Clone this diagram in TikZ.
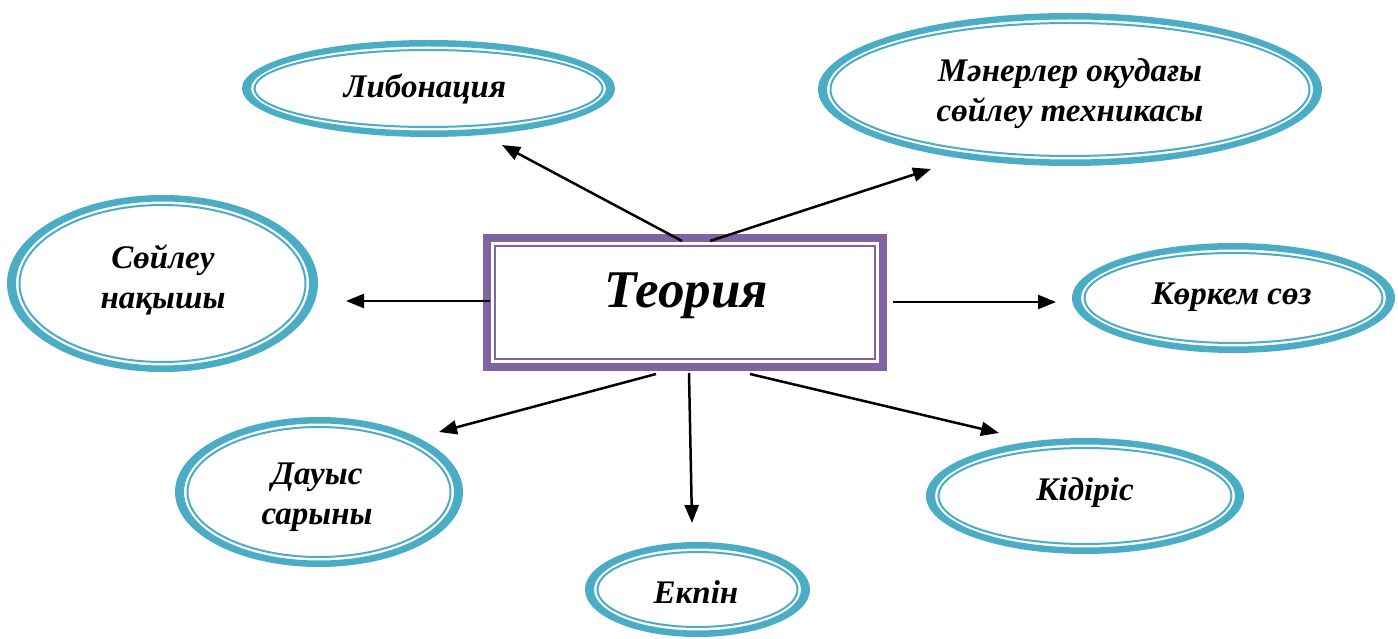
\documentclass[tikz,border=0pt]{standalone}
\usepackage{fontspec}
\setmainfont{Liberation Serif}
\usetikzlibrary{arrows.meta}
\definecolor{ringc}{HTML}{4BACC6}
\definecolor{boxc}{HTML}{8064A2}
\newcommand\ovalring[4]{%
  \fill[ringc, even odd rule] (#1,#2) ellipse [x radius=#3, y radius=#4]
       (#1,#2) ellipse [x radius=#3-9, y radius=#4-6.5];
  \draw[ringc, line width=2pt] (#1,#2) ellipse [x radius=#3-12.5, y radius=#4-10];
}
\tikzset{
  lbl/.style={font=\bfseries\itshape\fontsize{33}{40}\selectfont, align=center, inner sep=0pt},
  title/.style={font=\bfseries\itshape\fontsize{53}{60}\selectfont, inner sep=0pt},
  arr/.style={line width=2.5pt, -{Triangle[length=18pt, width=14pt]}}
}
\begin{document}
\begin{tikzpicture}[x=1pt, y=-1pt]
\useasboundingbox (0,0) rectangle (1398,639);
% centre box
\draw[boxc, line width=8pt] (487,238) rectangle (883,367);
\draw[boxc, line width=2pt] (495,246) rectangle (875,359);
\node[title] (T) at (686.5,295.3) {Теория};
% ovals
\ovalring{428.5}{88.5}{186.5}{48.5}
\node[lbl] (L) at (425,88.5) {Либонация};
\ovalring{1070}{89.5}{252}{76.5}
\node[lbl] (M) at (1070,94) {Мәнерлер оқудағы\\сөйлеу техникасы};
\ovalring{162.5}{283.5}{155.5}{88.5}
\node[lbl] (S) at (163,279.5) {Сөйлеу\\нақышы};
\ovalring{1233.5}{298}{161.5}{55}
\node[lbl] (K) at (1231.5,297.6) {Көркем сөз};
\ovalring{319}{492}{144}{75}
\node[lbl] (D) at (317,497.5) {Дауыс\\сарыны};
\ovalring{697.5}{589.5}{112.5}{47.5}
\node[lbl] (E) at (696,592) {Екпін};
\ovalring{1085}{496}{159}{58}
\node[lbl] (Ki) at (1085,492.3) {Кідіріс};
% connector ends
\coordinate (s1) at (682,241); \coordinate (e1) at (502,145);
\coordinate (s2) at (710,241); \coordinate (e2) at (931,169);
\coordinate (s3) at (490,301); \coordinate (e3) at (346,301);
\coordinate (s4) at (893,302); \coordinate (e4) at (1056,302);
\coordinate (s5) at (656,374); \coordinate (e5) at (439,432);
\coordinate (s6) at (689,373); \coordinate (e6) at (692,523);
\coordinate (s7) at (750,374); \coordinate (e7) at (999,433);
\draw[arr] (s1) -- (e1);
\draw[arr] (s2) -- (e2);
\draw[arr] (s3) -- (e3);
\draw[arr] (s4) -- (e4);
\draw[arr] (s5) -- (e5);
\draw[arr] (s6) -- (e6);
\draw[arr] (s7) -- (e7);
\end{tikzpicture}
\end{document}
